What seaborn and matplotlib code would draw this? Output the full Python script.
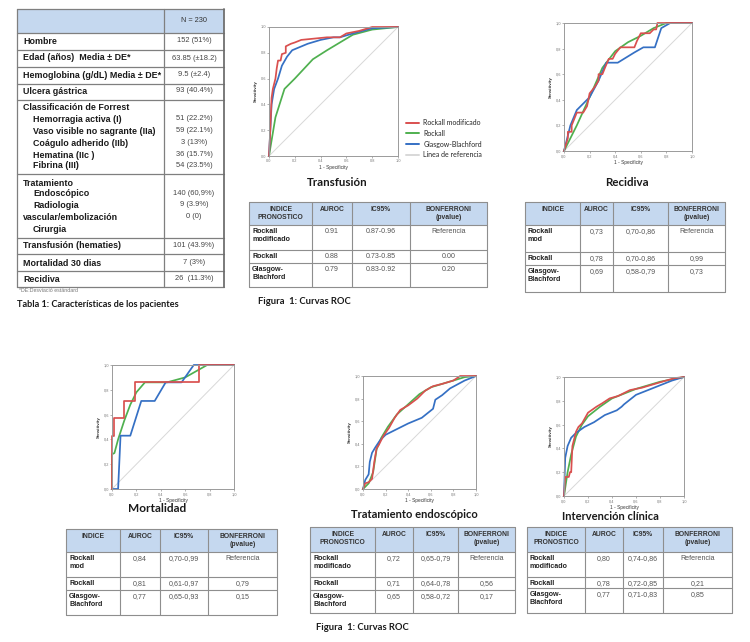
import numpy as np
import pandas as pd
import matplotlib
matplotlib.use("Agg")
import matplotlib.pyplot as plt
import seaborn as sns
from matplotlib.patches import Rectangle
from matplotlib.lines import Line2D

# ---------------- DATA ----------------
# Table 1
T1_LABELS = ["Hombre", "Edad (años)  Media ± DE*", "Hemoglobina (g/dL) Media ± DE*", "Ulcera gástrica",
             "Classificación de Forrest", "Hemorragia activa (I)", "Vaso visible no sagrante (IIa)",
             "Coágulo adherido (IIb)", "Hematina (IIc )", "Fibrina (III)",
             "Tratamiento", "Endoscópico", "Radiologia", "vascular/embolización", "Cirurgia",
             "Transfusión (hematies)", "Mortalidad 30 dias", "Recidiva"]
T1_VALUES = ["152 (51%)", "63.85 (±18.2)", "9.5 (±2.4)", "93 (40.4%)",
             "", "51 (22.2%)", "59 (22.1%)", "3 (13%)", "36 (15.7%)", "54 (23.5%)",
             "", "140 (60,9%)", "9 (3.9%)", "0 (0)", "",
             "101 (43.9%)", "7 (3%)", "26  (11.3%)"]
T1_HEADER = "N = 230"

SERIES_NAMES = ["Rockall modificado", "Rockall", "Glasgow-Blachford", "Línea de referencia"]

# ROC curves: (1 - specificity, sensitivity)
TRANS_MOD_X = [0, 0.01, 0.02, 0.03, 0.05, 0.06, 0.07, 0.09, 0.10, 0.13, 0.13, 0.17, 0.20, 0.25, 0.35, 0.45, 0.55, 0.60, 0.70, 0.80, 1.0]
TRANS_MOD_Y = [0, 0.20, 0.45, 0.52, 0.60, 0.68, 0.74, 0.74, 0.79, 0.80, 0.85, 0.87, 0.88, 0.90, 0.91, 0.92, 0.92, 0.95, 0.97, 1.0, 1.0]
TRANS_ROCK_X = [0, 0.05, 0.12, 0.20, 0.34, 0.45, 0.55, 0.65, 0.80, 1.0]
TRANS_ROCK_Y = [0, 0.30, 0.52, 0.60, 0.75, 0.82, 0.88, 0.94, 0.98, 1.0]
TRANS_GB_X = [0, 0.01, 0.02, 0.04, 0.07, 0.10, 0.14, 0.18, 0.30, 0.40, 0.50, 0.55, 0.65, 0.80, 1.0]
TRANS_GB_Y = [0, 0.20, 0.40, 0.52, 0.60, 0.70, 0.77, 0.82, 0.87, 0.90, 0.92, 0.92, 0.95, 0.99, 1.0]

REC_MOD_X = [0, 0.03, 0.03, 0.06, 0.06, 0.08, 0.10, 0.15, 0.18, 0.20, 0.24, 0.27, 0.27, 0.30, 0.32, 0.35, 0.38, 0.40, 0.44, 0.55, 0.57, 0.60, 0.67, 0.70, 0.72, 0.73, 1.0]
REC_MOD_Y = [0, 0.10, 0.15, 0.15, 0.20, 0.25, 0.30, 0.30, 0.35, 0.45, 0.50, 0.55, 0.60, 0.60, 0.65, 0.72, 0.72, 0.76, 0.81, 0.81, 0.86, 0.92, 0.92, 0.95, 0.95, 1.0, 1.0]
REC_ROCK_X = [0, 0.10, 0.20, 0.30, 0.40, 0.50, 0.60, 0.70, 0.80, 1.0]
REC_ROCK_Y = [0, 0.20, 0.42, 0.65, 0.78, 0.85, 0.90, 0.96, 1.0, 1.0]
REC_GB_X = [0, 0.05, 0.10, 0.20, 0.27, 0.33, 0.42, 0.55, 0.62, 0.71, 0.76, 0.83, 1.0]
REC_GB_Y = [0, 0.20, 0.32, 0.42, 0.55, 0.69, 0.69, 0.77, 0.81, 0.81, 0.96, 1.0, 1.0]

MORT_MOD_X = [0, 0, 0.02, 0.02, 0.10, 0.10, 0.19, 0.19, 0.71, 0.71, 1.0]
MORT_MOD_Y = [0, 0.43, 0.43, 0.57, 0.57, 0.71, 0.71, 0.86, 0.86, 1.0, 1.0]
MORT_ROCK_X = [0, 0, 0.02, 0.05, 0.10, 0.15, 0.20, 0.27, 0.45, 0.60, 0.78, 1.0]
MORT_ROCK_Y = [0, 0.28, 0.29, 0.40, 0.55, 0.68, 0.78, 0.86, 0.86, 0.90, 1.0, 1.0]
MORT_GB_X = [0, 0.05, 0.07, 0.15, 0.24, 0.35, 0.44, 0.57, 0.67, 1.0]
MORT_GB_Y = [0, 0, 0.43, 0.43, 0.71, 0.71, 0.86, 0.86, 1.0, 1.0]

ENDO_MOD_X = [0, 0.02, 0.05, 0.08, 0.10, 0.12, 0.14, 0.18, 0.23, 0.28, 0.33, 0.40, 0.48, 0.55, 0.62, 0.70, 0.80, 0.86, 1.0]
ENDO_MOD_Y = [0, 0.05, 0.06, 0.09, 0.24, 0.36, 0.39, 0.47, 0.54, 0.63, 0.70, 0.74, 0.80, 0.87, 0.91, 0.93, 0.96, 1.0, 1.0]
ENDO_ROCK_X = [0, 0.05, 0.09, 0.12, 0.16, 0.22, 0.30, 0.40, 0.50, 0.60, 0.70, 0.80, 0.90, 1.0]
ENDO_ROCK_Y = [0, 0.05, 0.15, 0.35, 0.45, 0.55, 0.66, 0.75, 0.84, 0.90, 0.93, 0.96, 0.99, 1.0]
ENDO_GB_X = [0, 0.02, 0.05, 0.06, 0.08, 0.11, 0.15, 0.20, 0.30, 0.40, 0.52, 0.62, 0.64, 0.70, 0.77, 0.90, 1.0]
ENDO_GB_Y = [0, 0.08, 0.13, 0.24, 0.32, 0.37, 0.43, 0.48, 0.53, 0.58, 0.63, 0.71, 0.79, 0.83, 0.89, 0.96, 1.0]

INT_MOD_X = [0, 0.01, 0.04, 0.05, 0.06, 0.07, 0.10, 0.12, 0.15, 0.20, 0.27, 0.32, 0.38, 0.45, 0.55, 0.65, 0.75, 0.85, 0.92, 1.0]
INT_MOD_Y = [0, 0.16, 0.16, 0.20, 0.20, 0.42, 0.54, 0.58, 0.61, 0.70, 0.75, 0.78, 0.82, 0.84, 0.89, 0.91, 0.94, 0.97, 0.99, 1.0]
INT_ROCK_X = [0, 0.03, 0.06, 0.10, 0.15, 0.20, 0.30, 0.40, 0.50, 0.60, 0.70, 0.80, 0.90, 1.0]
INT_ROCK_Y = [0, 0.20, 0.35, 0.50, 0.60, 0.67, 0.75, 0.82, 0.86, 0.90, 0.93, 0.96, 0.98, 1.0]
INT_GB_X = [0, 0.01, 0.03, 0.06, 0.10, 0.17, 0.25, 0.34, 0.44, 0.48, 0.50, 0.60, 0.70, 0.80, 0.90, 1.0]
INT_GB_Y = [0, 0.32, 0.42, 0.49, 0.53, 0.58, 0.62, 0.68, 0.72, 0.75, 0.77, 0.85, 0.89, 0.93, 0.97, 1.0]

# ROC tables
HDR_PRON = ["INDICE\nPRONOSTICO", "AUROC", "IC95%", "BONFERRONI\n(pvalue)"]
HDR_IND = ["INDICE", "AUROC", "IC95%", "BONFERRONI\n(pvalue)"]
NAMES_LONG = ["Rockall\nmodificado", "Rockall", "Glasgow-\nBlachford"]
NAMES_SHORT = ["Rockall\nmod", "Rockall", "Glasgow-\nBlachford"]

TRANS_AUROC = ["0.91", "0.88", "0.79"]
TRANS_IC = ["0.87-0.96", "0.73-0.85", "0.83-0.92"]
TRANS_BONF = ["Referencia", "0.00", "0.20"]
REC_AUROC = ["0,73", "0,78", "0,69"]
REC_IC = ["0,70-0,86", "0,70-0,86", "0,58-0,79"]
REC_BONF = ["Referencia", "0,99", "0,73"]
MORT_AUROC = ["0,84", "0,81", "0,77"]
MORT_IC = ["0,70-0,99", "0,61-0,97", "0,65-0,93"]
MORT_BONF = ["Referencia", "0,79", "0,15"]
ENDO_AUROC = ["0,72", "0,71", "0,65"]
ENDO_IC = ["0,65-0,79", "0,64-0,78", "0,58-0,72"]
ENDO_BONF = ["Referencia", "0,56", "0,17"]
INT_AUROC = ["0,80", "0,78", "0,77"]
INT_IC = ["0,74-0,86", "0,72-0,85", "0,71-0,83"]
INT_BONF = ["Referencia", "0,21", "0,85"]

# ---------------- STYLE / LAYOUT ----------------
sns.set_theme(style="white")
plt.rcParams['font.family'] = ['Liberation Sans', 'DejaVu Sans']

RED = '#d9504f'
GREEN = '#4fb04f'
BLUE = '#3570c4'
REFC = '#d8d8d8'
LINEC = '#8e8e8e'
HDRC = '#c5d8ef'

W, H = 750, 642
fig = plt.figure(figsize=(7.5, 6.42), dpi=100)
fig.patch.set_facecolor('white')


def fx(x):
    return x / W


def fy(y):
    return 1 - y / H


def ftext(x, y, s, **kw):
    fig.text(fx(x), fy(y), s, **kw)


def hline(x0, x1, y, color=LINEC, lw=0.8):
    fig.add_artist(Line2D([fx(x0), fx(x1)], [fy(y), fy(y)], color=color, lw=lw))


def vline(x, y0, y1, color=LINEC, lw=0.8):
    fig.add_artist(Line2D([fx(x), fx(x)], [fy(y0), fy(y1)], color=color, lw=lw))


def header_fill(l, r, t, b):
    fig.add_artist(Rectangle((fx(l), fy(b)), fx(r) - fx(l), fy(t) - fy(b),
                             transform=fig.transFigure, facecolor=HDRC, edgecolor='none', zorder=0))


def roc_table(cols, rows, header, names, auroc, ic, bonf, fs=4.9):
    header_fill(cols[0], cols[-1], rows[0], rows[1])
    for y in rows:
        hline(cols[0], cols[-1], y)
    for x in cols:
        vline(x, rows[0], rows[-1])
    for i, h in enumerate(header):
        cx = (cols[i] + cols[i + 1]) / 2
        ftext(cx, rows[0] + 4, h, ha='center', va='top', fontsize=fs, fontweight='bold',
              color='#333333', linespacing=1.15)
    for j in range(3):
        top = rows[j + 1]
        ftext(cols[0] + 3, top + 3, names[j], ha='left', va='top', fontsize=fs + 0.2,
              fontweight='bold', color='#222222', linespacing=1.15)
        for k, v in enumerate([auroc[j], ic[j], bonf[j]]):
            cx = (cols[k + 1] + cols[k + 2]) / 2
            ftext(cx, top + 3, v, ha='center', va='top', fontsize=fs + 0.2, color='#555555')


def roc_axes(box, curves, dec):
    l, t, r, b = box
    ax = fig.add_axes([fx(l), fy(b), (r - l) / W, (b - t) / H])
    sns.lineplot(x=[0, 1], y=[0, 1], color=REFC, lw=0.7, ax=ax)
    for xs, ys, c in curves:
        sns.lineplot(x=xs, y=ys, sort=False, estimator=None, color=c, lw=1.25, ax=ax)
    for ln in ax.lines:
        ln.set_clip_on(False)
    ax.set_xlim(0, 1)
    ax.set_ylim(0, 1)
    ticks = [0, 0.2, 0.4, 0.6, 0.8, 1.0]
    labels = [f"{v:.1f}".replace('.', dec) for v in ticks]
    ax.set_xticks(ticks)
    ax.set_xticklabels(labels, fontsize=2.8, color='#555555')
    ax.set_yticks(ticks)
    ax.set_yticklabels(labels, fontsize=2.8, color='#555555')
    ax.set_xlabel('1 - Specificity', fontsize=3.4, labelpad=1.5, color='#333333')
    ax.set_ylabel('Sensitivity', fontsize=3.2, labelpad=1.5, color='#333333', fontweight='bold')
    ax.tick_params(length=1.2, width=0.4, pad=1, colors='#777777', bottom=True, left=True)
    for s in ax.spines.values():
        s.set_color('#9a9a9a')
        s.set_linewidth(0.7)
    ax.set_facecolor('white')
    return ax


# ---------------- TABLE 1 ----------------
t1_left, t1_mid, t1_right = 17, 164, 224
t1_edges = [9, 33, 50, 67, 84, 100, 174, 238, 254, 271, 287]
header_fill(t1_left, t1_right, t1_edges[0], t1_edges[1])
for y in t1_edges:
    hline(t1_left, t1_right, y, color='#7f7f7f', lw=0.9)
vline(t1_left, t1_edges[0], t1_edges[-1], color='#7f7f7f', lw=0.9)
vline(t1_mid, t1_edges[0], t1_edges[-1], color='#7f7f7f', lw=0.9)
vline(t1_right, t1_edges[0], t1_edges[-1], color='#6f6f6f', lw=1.3)
ftext((t1_mid + t1_right) / 2, 21, T1_HEADER, ha='center', va='center', fontsize=5.3, color='#333333')

t1_y = [41, 58, 75, 91, 108, 119, 131, 143, 155, 166, 183, 194, 205, 217, 229, 246, 263, 279]
t1_indent = [0, 0, 0, 0, 0, 1, 1, 1, 1, 1, 0, 1, 1, 0, 1, 0, 0, 0]
for lab, val, y, ind in zip(T1_LABELS, T1_VALUES, t1_y, t1_indent):
    ftext(23 + 10 * ind, y, lab, ha='left', va='center', fontsize=6.4, fontweight='bold', color='#1a1a1a')
    if val:
        ftext((t1_mid + t1_right) / 2, y, val, ha='center', va='center', fontsize=5.4, color='#444444')
ftext(19, 290.5, "*DE:Desviació estándard", ha='left', va='center', fontsize=3.8, color='#777777')
ftext(17, 304, "Tabla 1: Características de los pacientes", ha='left', va='center', fontsize=6.6,
      fontweight='bold', color='#1a1a1a', family=['Lato', 'DejaVu Sans'])

# ---------------- ROC PLOTS ----------------
ax1 = roc_axes((269, 27, 398, 156), [(TRANS_ROCK_X, TRANS_ROCK_Y, GREEN), (TRANS_GB_X, TRANS_GB_Y, BLUE),
                                     (TRANS_MOD_X, TRANS_MOD_Y, RED)], '.')
ax2 = roc_axes((564, 23, 692, 151), [(REC_ROCK_X, REC_ROCK_Y, GREEN), (REC_GB_X, REC_GB_Y, BLUE),
                                     (REC_MOD_X, REC_MOD_Y, RED)], ',')
ax3 = roc_axes((112, 365, 234, 489), [(MORT_ROCK_X, MORT_ROCK_Y, GREEN), (MORT_GB_X, MORT_GB_Y, BLUE),
                                      (MORT_MOD_X, MORT_MOD_Y, RED)], ',')
ax4 = roc_axes((363, 376, 476, 489), [(ENDO_ROCK_X, ENDO_ROCK_Y, GREEN), (ENDO_GB_X, ENDO_GB_Y, BLUE),
                                      (ENDO_MOD_X, ENDO_MOD_Y, RED)], ',')
ax5 = roc_axes((564, 377, 684, 496), [(INT_ROCK_X, INT_ROCK_Y, GREEN), (INT_GB_X, INT_GB_Y, BLUE),
                                      (INT_MOD_X, INT_MOD_Y, RED)], ',')

# legend
handles = [Line2D([0], [0], color=c, lw=1.4) for c in [RED, GREEN, BLUE, REFC]]
fig.legend(handles, SERIES_NAMES, loc='upper left', bbox_to_anchor=(fx(406), fy(119)), frameon=False,
           handlelength=1.9, handletextpad=0.6, labelspacing=0.55, borderpad=0,
           borderaxespad=0, prop={'family': ['Lato', 'DejaVu Sans'], 'size': 5})

# titles
TFONT = ['Lato', 'DejaVu Sans']
ftext(337, 183, "Transfusión", ha='center', va='center', fontsize=8.3, fontweight='bold', family=TFONT, color='#1a1a1a')
ftext(627, 183, "Recidiva", ha='center', va='center', fontsize=8.3, fontweight='bold', family=TFONT, color='#1a1a1a')
ftext(157, 508, "Mortalidad", ha='center', va='center', fontsize=8.6, fontweight='bold', family=TFONT, color='#1a1a1a')
ftext(414, 515, "Tratamiento endoscópico", ha='center', va='center', fontsize=8.0, fontweight='bold', family=TFONT, color='#1a1a1a')
ftext(610, 516, "Intervención clínica", ha='center', va='center', fontsize=8.0, fontweight='bold', family=TFONT, color='#1a1a1a')
ftext(258, 302, "Figura  1: Curvas ROC", ha='left', va='center', fontsize=6.8, fontweight='bold', family=TFONT, color='#1a1a1a')
ftext(316, 627, "Figura  1: Curvas ROC", ha='left', va='center', fontsize=6.8, fontweight='bold', family=TFONT, color='#1a1a1a')

# ---------------- ROC TABLES ----------------
roc_table([249, 312, 352, 410, 487], [202, 225, 250, 263, 287], HDR_PRON, NAMES_LONG,
          TRANS_AUROC, TRANS_IC, TRANS_BONF)
roc_table([525, 580, 613, 668, 725], [202, 225, 252, 265, 292], HDR_IND, NAMES_SHORT,
          REC_AUROC, REC_IC, REC_BONF)
roc_table([66, 120, 160, 208, 277], [529, 552, 577, 590, 615], HDR_IND, NAMES_SHORT,
          MORT_AUROC, MORT_IC, MORT_BONF)
roc_table([310, 375, 413, 458, 515], [527, 552, 577, 590, 613], HDR_PRON, NAMES_LONG,
          ENDO_AUROC, ENDO_IC, ENDO_BONF)
roc_table([527, 585, 623, 663, 732], [527, 552, 577, 588, 613], HDR_PRON, NAMES_LONG,
          INT_AUROC, INT_IC, INT_BONF)

fig.savefig("out.png", dpi=100, facecolor='white')
